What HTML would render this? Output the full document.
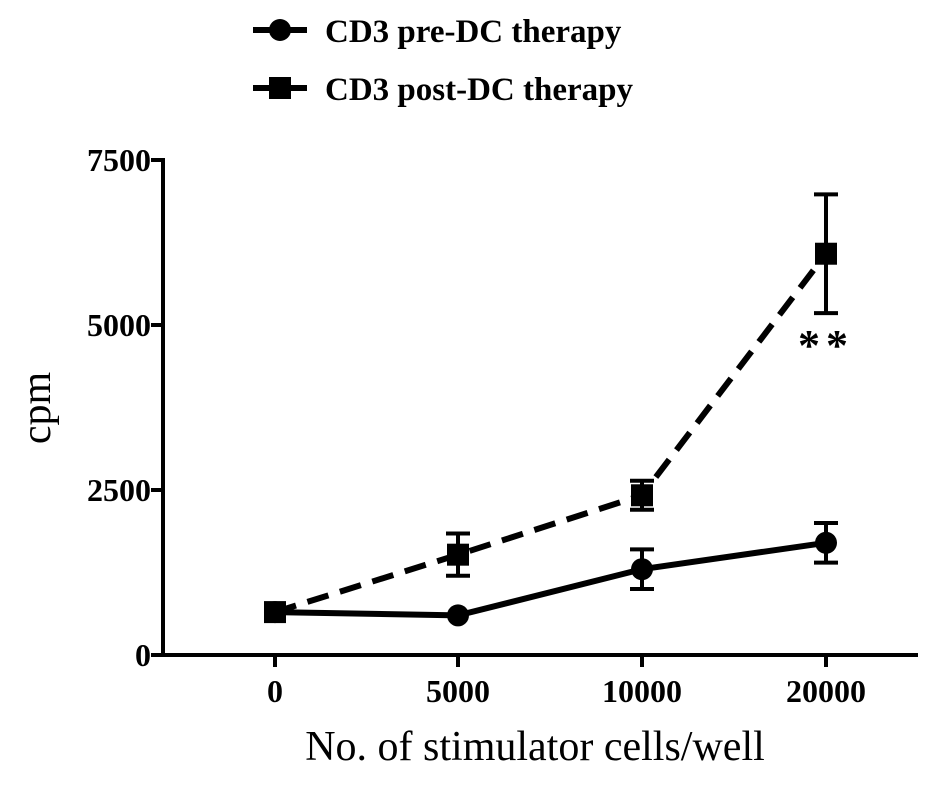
<!DOCTYPE html>
<html><head><meta charset="utf-8"><style>
html,body{margin:0;padding:0;background:#fff;}
svg{display:block;font-family:"Liberation Serif",serif;}
</style></head><body>
<svg id="chart" width="932" height="794"></svg>
<script>
const categories=["0","5000","10000","20000"];
const preValues=[650,600,1300,1700];
const preErr=[0,0,300,300];
const postValues=[650,1520,2420,6080];
const postErr=[0,320,220,900];
const yTicks=[0,2500,5000,7500];
const NS="http://www.w3.org/2000/svg";
const svg=document.getElementById("chart");
const x0=163,yBase=655,yTop=160,yMax=7500;
const xPos=[275,458,642,826];
function xs(i){return xPos[i];}
function ys(v){return yBase-(v/yMax)*(yBase-yTop);}
function el(tag,attrs,parent){const e=document.createElementNS(NS,tag);for(const k in attrs)e.setAttribute(k,attrs[k]);(parent||svg).appendChild(e);return e;}
let a=el("line",{x1:x0,y1:yTop-2,x2:x0,y2:yBase+2,stroke:"#000","stroke-width":4});


a=el("line",{x1:x0-2,y1:yBase,x2:918,y2:yBase,stroke:"#000","stroke-width":4});


yTicks.forEach(v=>{
 const t=el("line",{x1:x0-12,y1:ys(v),x2:x0,y2:ys(v),stroke:"#000","stroke-width":4});
 
 
 const l=el("text",{x:x0-12,y:ys(v)+11,"text-anchor":"end","font-size":32,"font-weight":"bold"});
 l.textContent=v;
 
 
});
categories.forEach((c,i)=>{
 const t=el("line",{x1:xs(i),y1:yBase,x2:xs(i),y2:yBase+12,stroke:"#000","stroke-width":4});
 
 
 const l=el("text",{x:xs(i),y:yBase+47,"text-anchor":"middle","font-size":32,"font-weight":"bold"});
 l.textContent=c;
 
 
});
function series(vals,errs,dash,marker,name){
 const pts=vals.map((v,i)=>xs(i)+","+ys(v)).join(" ");
 const p=el("polyline",{points:pts,fill:"none",stroke:"#000","stroke-width":6,"stroke-dasharray":dash});
 
 
 vals.forEach((v,i)=>{
  if(errs[i]>0){
   const g=el("path",{d:`M${xs(i)},${ys(v+errs[i])}V${ys(v-errs[i])}M${xs(i)-12},${ys(v+errs[i])}h24M${xs(i)-12},${ys(v-errs[i])}h24`,stroke:"#000","stroke-width":4,fill:"none"});
   
   
  }
  let m;
  if(marker==="circle")m=el("circle",{cx:xs(i),cy:ys(v),r:11,fill:"#000"});
  else m=el("rect",{x:xs(i)-11,y:ys(v)-11,width:22,height:22,fill:"#000"});
  
  
 });
}
series(postValues,postErr,"22,12","square","post");
series(preValues,preErr,"none","circle","pre");
const st=el("text",{x:826,y:360,"text-anchor":"middle","font-size":44,"font-weight":"bold","letter-spacing":"6"});
st.textContent="**";


[["CD3 pre-DC therapy","circle","none",30],["CD3 post-DC therapy","square","22,10",88]].forEach(([txt,mk,dash,y])=>{
 const g=el("g",{});
 
 
 el("line",{x1:253,y1:y,x2:307,y2:y,stroke:"#000","stroke-width":6,"stroke-dasharray":dash},g);
 if(mk==="circle")el("circle",{cx:280,cy:y,r:11,fill:"#000"},g);
 else el("rect",{x:269,y:y-11,width:22,height:22,fill:"#000"},g);
 const t=el("text",{x:325,y:y+12,"font-size":33,"font-weight":"bold"},g);
 t.textContent=txt;
});
const yt=el("text",{x:0,y:0,"text-anchor":"middle","font-size":42,transform:"translate(50,408) rotate(-90)"});
yt.textContent="cpm";


const xt=el("text",{x:535,y:760,"text-anchor":"middle","font-size":42});
xt.textContent="No. of stimulator cells/well";


</script>
</body></html>
